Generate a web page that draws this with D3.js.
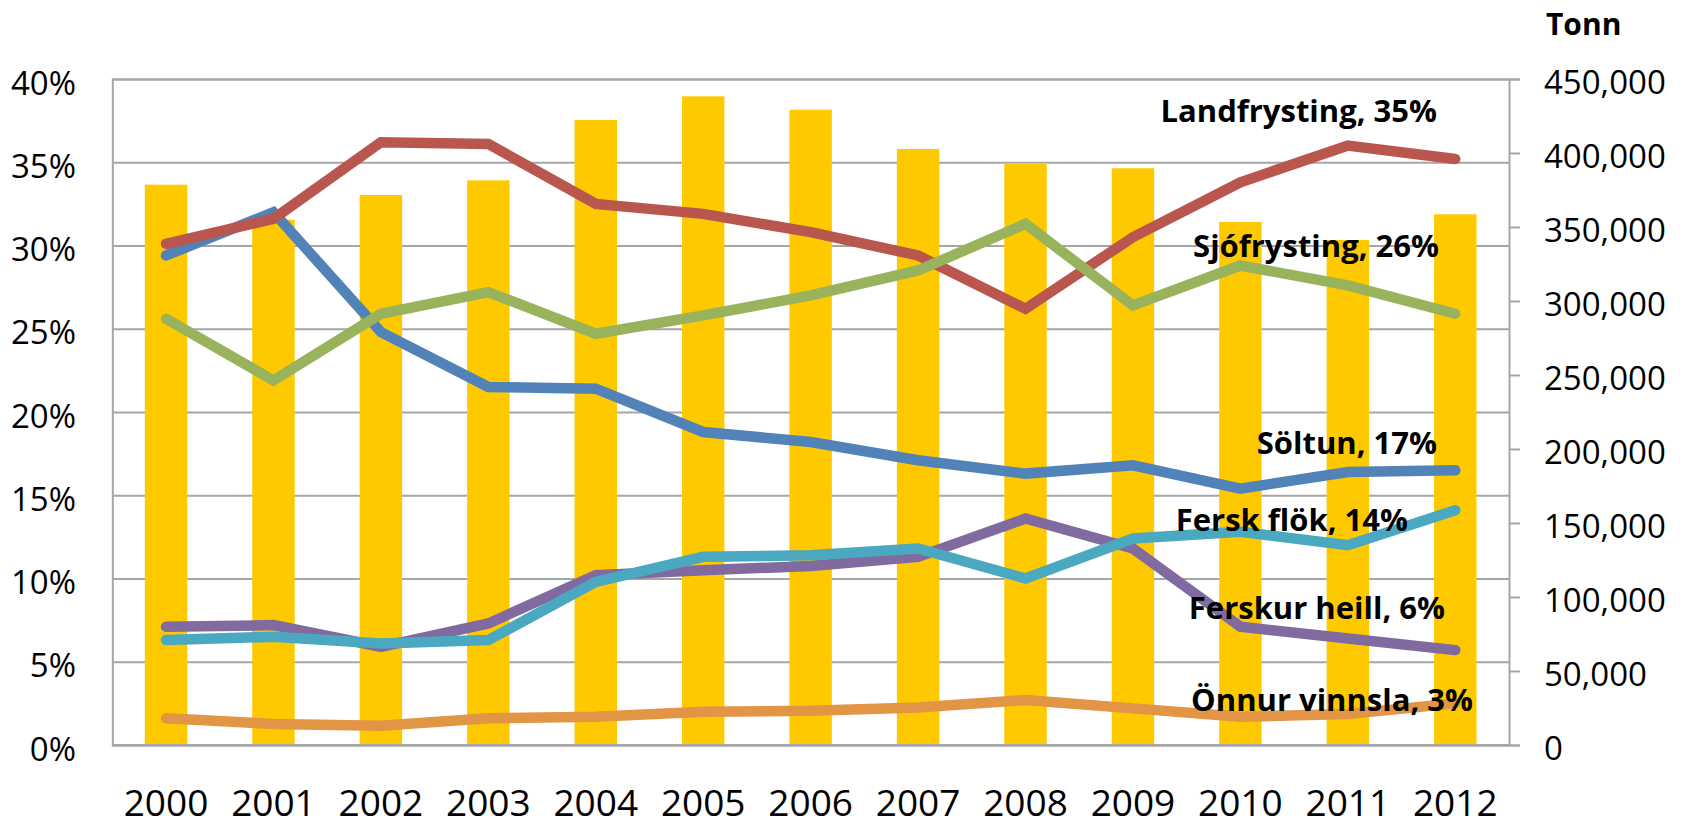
<!DOCTYPE html>
<html>
<head>
<meta charset="utf-8">
<script src="https://cdn.jsdelivr.net/npm/d3@7"></script>
<style>
  body { margin: 0; background: #fff; }
  text { font-family: "Open Sans", sans-serif; fill: #000; }
</style>
</head>
<body>
<div id="chart"></div>
<script>
// categories
var years = ["2000", "2001", "2002", "2003", "2004", "2005", "2006", "2007", "2008", "2009", "2010", "2011", "2012"];

// bars, right axis (tonn)
var tonnes = [378600, 354900, 371600, 381500, 422300, 438300, 429300, 402700, 393200, 389700, 353400, 341200, 358600];

// lines, left axis (share)
var landfrysting = [0.301, 0.316, 0.362, 0.361, 0.325, 0.319, 0.308, 0.294, 0.262, 0.305, 0.338, 0.360, 0.352];
var sjofrysting  = [0.256, 0.219, 0.259, 0.272, 0.247, 0.258, 0.270, 0.285, 0.313, 0.264, 0.288, 0.276, 0.259];
var soltun       = [0.294, 0.320, 0.248, 0.215, 0.214, 0.188, 0.182, 0.171, 0.163, 0.168, 0.154, 0.164, 0.165];
var ferskFlok    = [0.063, 0.065, 0.061, 0.063, 0.098, 0.113, 0.114, 0.118, 0.100, 0.124, 0.128, 0.120, 0.141];
var ferskurHeill = [0.071, 0.072, 0.059, 0.073, 0.102, 0.105, 0.1075, 0.113, 0.136, 0.118, 0.071, 0.064, 0.057];
var onnurVinnsla = [0.016, 0.0126, 0.0116, 0.016, 0.017, 0.020, 0.0205, 0.0225, 0.027, 0.022, 0.017, 0.0186, 0.025];

// tick labels
var leftTicks = [0, 0.05, 0.10, 0.15, 0.20, 0.25, 0.30, 0.35, 0.40];
var rightTicks = [0, 50000, 100000, 150000, 200000, 250000, 300000, 350000, 400000, 450000];
var seriesNames = ["Söltun, 17%", "Landfrysting, 35%", "Sjófrysting, 26%", "Ferskur heill, 6%", "Fersk flök, 14%", "Önnur vinnsla, 3%"];

var svgWidth = 1681, svgHeight = 819;
var plot = { left: 112.3, right: 1509, top: 79, bottom: 745 };

var svg = d3.select("#chart").append("svg")
  .attr("width", svgWidth)
  .attr("height", svgHeight);

var x = d3.scaleBand().domain(years).range([plot.left, plot.right]).padding(0);
var yLeft = d3.scaleLinear().domain([0, 0.4]).range([plot.bottom, plot.top]);
var yRight = d3.scaleLinear().domain([0, 450000]).range([plot.bottom, plot.top]);

var gridColor = "#a6a6a6";

// horizontal gridlines from left axis
svg.append("g")
  .attr("transform", `translate(${plot.left},0)`)
  .call(d3.axisLeft(yLeft).tickValues(leftTicks).tickSize(-(plot.right - plot.left)).tickFormat(""))
  .call(g => g.selectAll("line").attr("stroke", gridColor).attr("stroke-width", 2))
  .call(g => g.select(".domain").attr("stroke", gridColor).attr("stroke-width", 2));

// bars
var barW = x.bandwidth() * 0.395;
svg.append("g").selectAll("rect")
  .data(years)
  .enter()
  .append("rect")
  .attr("x", (d, i) => x(d) + x.bandwidth() / 2 - barW / 2)
  .attr("y", (d, i) => yRight(tonnes[i]))
  .attr("width", barW)
  .attr("height", (d, i) => plot.bottom - yRight(tonnes[i]))
  .attr("fill", "#ffc900");

// bottom axis line (over bars)
svg.append("line")
  .attr("x1", plot.left).attr("x2", plot.right)
  .attr("y1", yLeft(0)).attr("y2", yLeft(0))
  .attr("stroke", gridColor).attr("stroke-width", 2);

// right axis
svg.append("g")
  .attr("transform", `translate(${plot.right},0)`)
  .call(d3.axisRight(yRight).tickValues(rightTicks).tickSize(11).tickFormat(""))
  .call(g => g.selectAll("line").attr("stroke", gridColor).attr("stroke-width", 2))
  .call(g => g.select(".domain").attr("stroke", gridColor).attr("stroke-width", 2));

// lines
var series = [
  { values: soltun, color: "#5283b8" },
  { values: landfrysting, color: "#b9574f" },
  { values: sjofrysting, color: "#98b35b" },
  { values: ferskurHeill, color: "#806a9f" },
  { values: ferskFlok, color: "#4aa8c0" },
  { values: onnurVinnsla, color: "#e39546" }
];

var line = d3.line()
  .x((d, i) => x(years[i]) + x.bandwidth() / 2)
  .y(d => yLeft(d));

svg.append("g").selectAll("path")
  .data(series)
  .enter()
  .append("path")
  .attr("d", d => line(d.values))
  .attr("fill", "none")
  .attr("stroke", d => d.color)
  .attr("stroke-width", 10.5)
  .attr("stroke-linecap", "round")
  .attr("stroke-linejoin", "miter");

// left tick labels
svg.append("g").selectAll("text")
  .data(leftTicks)
  .enter()
  .append("text")
  .attr("x", 76)
  .attr("y", d => yLeft(d) + 15.5)
  .attr("text-anchor", "end")
  .style("font-size", "33px")
  .text(d => d3.format(".0%")(d));

// right tick labels
svg.append("g").selectAll("text")
  .data(rightTicks)
  .enter()
  .append("text")
  .attr("x", 1544)
  .attr("y", d => yRight(d) + 15)
  .style("font-size", "33px")
  .text(d => d3.format(",")(d));

// year labels
svg.append("g").selectAll("text")
  .data(years)
  .enter()
  .append("text")
  .attr("x", d => x(d) + x.bandwidth() / 2)
  .attr("y", 816)
  .attr("text-anchor", "middle")
  .style("font-size", "37px")
  .text(d => d);

// axis title
svg.append("text")
  .attr("x", 1546)
  .attr("y", 35)
  .style("font-size", "30px")
  .style("font-weight", "bold")
  .text("Tonn");

// series labels, right-aligned near the end of each line
var labelPos = [[1437, 454], [1437, 122], [1439, 257], [1445, 619], [1408, 531], [1473, 711]];
svg.append("g").selectAll("text")
  .data(seriesNames)
  .enter()
  .append("text")
  .attr("x", (d, i) => labelPos[i][0])
  .attr("y", (d, i) => labelPos[i][1])
  .attr("text-anchor", "end")
  .style("font-size", "31px")
  .style("font-weight", "bold")
  .text(d => d);
</script>
</body>
</html>
